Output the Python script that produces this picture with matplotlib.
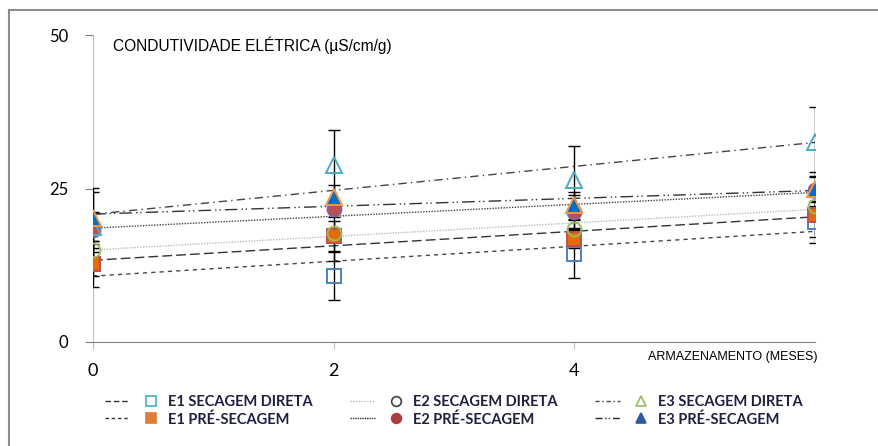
import numpy as np
import matplotlib
matplotlib.use("Agg")
import matplotlib.pyplot as plt
from matplotlib.lines import Line2D
from matplotlib.patches import Rectangle
from matplotlib.legend_handler import HandlerTuple

# storage time (months)
meses = [0, 2, 4, 6]

# electrical conductivity means and error bars per treatment
e1_direta = [12.7, 10.8, 14.4, 19.6]
e1_direta_err = [2.0, 4.0, 4.0, 3.4]
e1_pre = [12.7, 17.2, 16.8, 20.7]
e1_pre_err = [3.8, 2.5, 1.5, 3.6]
e2_direta = [15.0, 17.7, 18.4, 22.1]
e2_direta_err = [1.5, 4.5, 1.4, 1.5]
e2_pre = [18.2, 21.6, 21.2, 24.8]
e2_pre_err = [2.9, 1.2, 2.7, 2.0]
e3_direta = [18.8, 28.8, 26.4, 32.6]
e3_direta_err = [6.3, 5.8, 5.6, 5.6]
e3_pre = [20.2, 23.6, 22.3, 24.9]
e3_pre_err = [4.3, 1.9, 2.2, 2.8]

labels = ["E1 SECAGEM DIRETA", "E1 PRÉ-SECAGEM", "E2 SECAGEM DIRETA",
          "E2 PRÉ-SECAGEM", "E3 SECAGEM DIRETA", "E3 PRÉ-SECAGEM"]

series = [
    # values, err, marker, face, edge, trend style, trend color
    (e1_direta, e1_direta_err, "s", "none", "#4F81BD", (0, (3, 3)), "#444444"),
    (e1_pre, e1_pre_err, "s", "#E36C09", "#C0504D", (0, (7, 3)), "#333333"),
    (e2_direta, e2_direta_err, "o", "none", "#9BBB59", (0, (1, 1)), "#BBBBBB"),
    (e2_pre, e2_pre_err, "o", "#C0504D", "#8064A2", (0, (1, 1)), "#444444"),
    (e3_direta, e3_direta_err, "^", "none", "#4BACC6", (0, (6, 3, 1, 3)), "#444444"),
    (e3_pre, e3_pre_err, "^", "#0070C0", "#F79646", (0, (9, 3, 1, 2, 1, 3)), "#333333"),
]

fig = plt.figure(figsize=(8.79, 4.46), dpi=100)
ax = fig.add_axes([93 / 879, 1 - 342 / 446, (815 - 93) / 879, (342 - 35) / 446])

x = np.array(meses, dtype=float)
xx = np.array([0.0, 6.0])
for vals, err, mk, fc, ec, ls, lc in series:
    # linear trend line
    b, a = np.polyfit(x, vals, 1)
    ax.plot(xx, a + b * xx, ls=ls, color=lc, lw=1.0, zorder=2)
for vals, err, mk, fc, ec, ls, lc in series:
    ax.errorbar(x, vals, yerr=err, fmt="none", ecolor="black", elinewidth=1.0,
                capsize=4, capthick=1.0, zorder=3)
for vals, err, mk, fc, ec, ls, lc in series:
    ms = 9.5 if mk == "s" else (10 if mk == "o" else 11)
    ax.plot(x, vals, ls="none", marker=mk, ms=ms, mfc=fc, mec=ec, mew=1.4, zorder=4)

ax.set_xlim(0, 6)
ax.set_ylim(0, 50)
ax.set_xticks([0, 2, 4])
ax.set_yticks([0, 25, 50])
ax.spines["top"].set_visible(False)
ax.spines["right"].set_visible(False)
ax.spines["left"].set_color("#BFBFBF")
ax.spines["bottom"].set_color("#808080")
ax.tick_params(axis="y", direction="out", length=6, color="#808080", pad=12,
               labelsize=12)
ax.tick_params(axis="x", direction="out", length=5, color="#BFBFBF", pad=10,
               labelsize=13)
for t in ax.get_xticklabels() + ax.get_yticklabels():
    t.set_fontfamily("Lato")

ax.text(113 / 879, 1 - 45 / 446, "CONDUTIVIDADE ELÉTRICA (µS/cm/g)",
        transform=fig.transFigure, family="Liberation Sans", fontsize=11.2,
        va="center", ha="left")
ax.text(818 / 879, 1 - 357 / 446, "ARMAZENAMENTO (MESES)",
        transform=fig.transFigure, family="Liberation Sans", fontsize=9,
        va="center", ha="right")

# outer chart frame
fig.patches.append(Rectangle((9 / 879, -0.1), 1.0, 1.1 - 10 / 446,
                             transform=fig.transFigure, fill=False,
                             edgecolor="#8C8C8C", lw=1.5))

# legend: line sample followed by marker
leg_ls = [(0, (4, 2)), (0, (2.5, 2)), (0, (1, 1)), (0, (1, 0.7)),
          (0, (3, 2, 1, 2)), (0, (5, 2, 1, 1.5, 1, 2))]
leg_lc = ["#333333", "#333333", "#BBBBBB", "#333333", "#444444", "#222222"]
leg_mk = [("s", "none", "#4BACC6"), ("s", "#E07B39", "#E07B39"),
          ("o", "none", "#404040"), ("o", "#B03A3A", "#B03A3A"),
          ("^", "none", "#9BBB59"), ("^", "#2E5A9C", "#2E5A9C")]
handles = []
for ls, lc, (mk, fc, ec) in zip(leg_ls, leg_lc, leg_mk):
    ln = Line2D([], [], ls=ls, color=lc, lw=1.0)
    mm = Line2D([], [], ls="none", marker=mk, ms=7, mfc=fc, mec=ec, mew=1.2)
    handles.append((ln, mm))
fig.legend(handles, labels, ncol=3, loc="upper left",
           bbox_to_anchor=(92 / 879, 1 - 382 / 446), frameon=False,
           handler_map={tuple: HandlerTuple(ndivide=None, pad=0.6)},
           handlelength=4.0, columnspacing=2.6, labelspacing=0.2,
           handletextpad=0.3,
           prop={"family": "Lato", "size": 10.5, "weight": "bold"},
           labelcolor="#1F2040")

fig.savefig("out.png", dpi=100)
